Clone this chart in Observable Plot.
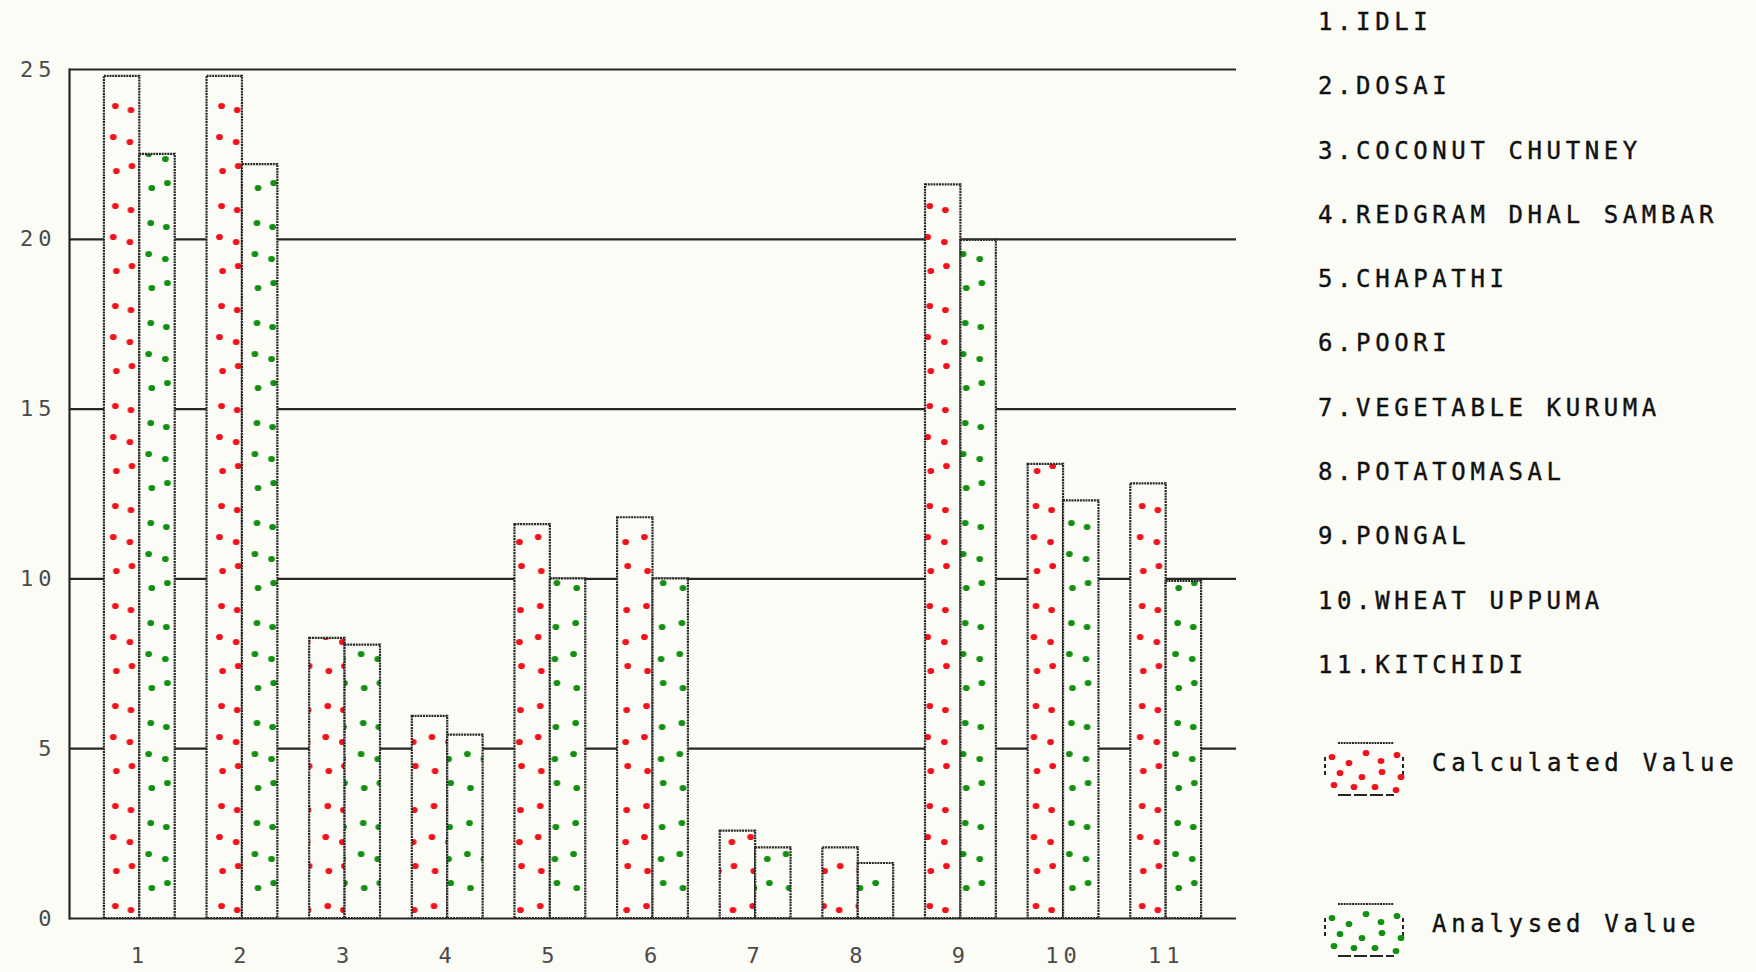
<!DOCTYPE html>
<html>
<head>
<meta charset="utf-8">
<script src="https://cdn.jsdelivr.net/npm/d3@7"></script>
<script src="https://cdn.jsdelivr.net/npm/@observablehq/plot@0.6"></script>
<style>
  html, body { margin: 0; padding: 0; background: #fcfcf6; }
  #wrap { position: relative; width: 1756px; height: 972px; overflow: hidden; }
  #chart { position: absolute; left: 0; top: 0; }
  .legend-list { position: absolute; left: 1318px; top: -10px; font-family: "DejaVu Sans Mono", monospace; font-size: 24px; letter-spacing: 4.6px; color: #111; -webkit-text-stroke: 0.4px #111; }
  .legend-list div { height: 64.3px; line-height: 64.3px; white-space: nowrap; }
  .key { position: absolute; left: 1322px; display: flex; align-items: center; font-family: "DejaVu Sans Mono", monospace; font-size: 24px; letter-spacing: 4.7px; color: #111; -webkit-text-stroke: 0.4px #111; white-space: nowrap; }
  .key svg { margin-right: 26px; }
  .key span { position: relative; top: -6px; }
</style>
</head>
<body>
<svg width="0" height="0" style="position:absolute">
  <defs id="defs"></defs>
</svg>
<div id="wrap">
  <div id="chart"></div>
  <div class="legend-list" id="list"></div>
  <div id="keys"></div>
</div>
<script>
// ---- data ----
const groups = ["1", "2", "3", "4", "5", "6", "7", "8", "9", "10", "11"];
const foodNames = ["IDLI", "DOSAI", "COCONUT CHUTNEY", "REDGRAM DHAL SAMBAR", "CHAPATHI", "POORI",
  "VEGETABLE KURUMA", "POTATOMASAL", "PONGAL", "WHEAT UPPUMA", "KITCHIDI"];
const calculated = [24.8, 24.8, 8.25, 5.95, 11.6, 11.8, 2.57, 2.08, 21.6, 13.37, 12.8];
const analysed = [22.5, 22.2, 8.05, 5.4, 10.0, 10.0, 2.08, 1.62, 19.97, 12.3, 9.93];
const yTicks = [0, 5, 10, 15, 20, 25];
const seriesNames = ["Calculated Value", "Analysed Value"];

// ---- layout / style ----
const W = 1756, H = 972;
const mL = 69, mR = 520, mT = 69, mB = 54;
const paper = "#fcfcf6";
const ink = "#262626";
const red = "#f2121c";
const green = "#138f14";

const xOpts = {type: "band", domain: groups, paddingInner: 0.31, paddingOuter: 0.34, round: false};
const xs = Plot.scale({x: {...xOpts, range: [mL, W - mR]}});
const bw = xs.bandwidth;
const half = bw / 2;
const x0 = xs.apply(groups[0]);

// dot patterns (texture only): loose pairs of dots, two columns
const dotSpots = [[11, 6], [26, 10], [9, 37], [25, 42], [12, 71], [27, 66]];
const tileH = 100;
function makePattern(id, color, offset, shift) {
  const ns = "http://www.w3.org/2000/svg";
  const p = document.createElementNS(ns, "pattern");
  p.setAttribute("id", id);
  p.setAttribute("patternUnits", "userSpaceOnUse");
  p.setAttribute("x", x0 + offset);
  p.setAttribute("y", shift);
  p.setAttribute("width", half);
  p.setAttribute("height", tileH);
  const bg = document.createElementNS(ns, "rect");
  bg.setAttribute("width", half); bg.setAttribute("height", tileH); bg.setAttribute("fill", paper);
  p.appendChild(bg);
  dotSpots.forEach(([dx, dy]) => {
    const c = document.createElementNS(ns, "ellipse");
    c.setAttribute("cx", dx * half / 34);
    c.setAttribute("cy", dy);
    c.setAttribute("rx", 3.4);
    c.setAttribute("ry", 3.1);
    c.setAttribute("fill", color);
    p.appendChild(c);
  });
  document.getElementById("defs").appendChild(p);
}
makePattern("calcDots", red, 0, 0);
makePattern("anaDots", green, half, 17);

const data = groups.map((g, i) => ({group: g, calc: calculated[i], ana: analysed[i]}));

const chart = Plot.plot({
  width: W,
  height: H,
  marginLeft: mL,
  marginRight: mR,
  marginTop: mT,
  marginBottom: mB,
  x: {...xOpts, label: null},
  y: {domain: [0, 25], label: null},
  style: {background: "transparent", fontFamily: "DejaVu Sans Mono, monospace", fontSize: "22px", color: "#4a4a4a", letterSpacing: "5px"},
  marks: [
    Plot.ruleY(yTicks, {stroke: ink, strokeWidth: 2.2}),
    Plot.frame({anchor: "left", stroke: ink, strokeWidth: 2.2}),
    Plot.barY(data, {x: "group", y: "calc", insetLeft: 0, insetRight: half, fill: "url(#calcDots)", stroke: ink, strokeWidth: 2.2, strokeDasharray: "2 0.8"}),
    Plot.barY(data, {x: "group", y: "ana", insetLeft: half, insetRight: 0, fill: "url(#anaDots)", stroke: ink, strokeWidth: 2.2, strokeDasharray: "2 0.8"}),
    Plot.axisY({ticks: yTicks, tickSize: 0, tickPadding: 13, label: null}),
    Plot.axisX({tickSize: 0, tickPadding: 29, label: null})
  ]
});
document.getElementById("chart").appendChild(chart);

// ---- legend (right side) ----
const list = document.getElementById("list");
groups.forEach((g, i) => {
  const d = document.createElement("div");
  d.textContent = `${g}.${foodNames[i]}`;
  list.appendChild(d);
});

const keys = document.getElementById("keys");
const keyTops = [740, 901];
const keyColors = [red, green];
const keySpots = [[6, 14], [23, 20], [40, 10], [55, 18], [71, 12], [14, 30], [36, 34], [56, 29], [75, 34], [8, 42], [28, 44], [49, 44], [70, 47]];
seriesNames.forEach((name, i) => {
  const k = document.createElement("div");
  k.className = "key";
  k.style.top = keyTops[i] + "px";
  const dots = keySpots.map(([x, y]) => `<ellipse cx="${x + 4}" cy="${y + 3}" rx="3.4" ry="3.1" fill="${keyColors[i]}"/>`).join("");
  k.innerHTML = `<svg width="84" height="58" viewBox="0 0 84 58">
      <line x1="16" x2="72" y1="3" y2="3" stroke="${ink}" stroke-width="2" stroke-dasharray="2 0.8"/>
      <line x1="16" x2="72" y1="55" y2="55" stroke="${ink}" stroke-width="2" stroke-dasharray="13 3"/>
      <line x1="3" x2="3" y1="17" y2="36" stroke="${ink}" stroke-width="2" stroke-dasharray="4 3"/>
      <line x1="81" x2="81" y1="17" y2="36" stroke="${ink}" stroke-width="2" stroke-dasharray="4 3"/>
      ${dots}
    </svg><span>${name}</span>`;
  keys.appendChild(k);
});
</script>
</body>
</html>
